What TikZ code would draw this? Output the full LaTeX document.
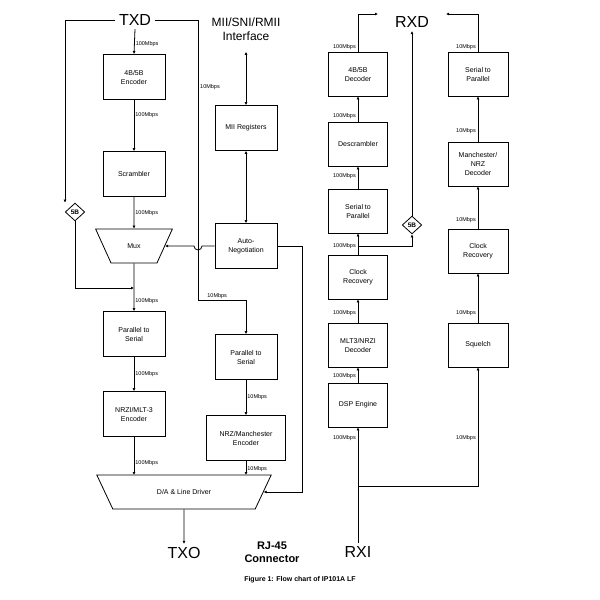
\documentclass[tikz,border=0pt]{standalone}
\usepackage{fontspec}
\setmainfont{Liberation Sans}
\usetikzlibrary{calc,shapes.geometric,arrows.meta}
\tikzset{
  blk/.style={draw,thick,minimum width=62pt,minimum height=45pt,align=center,font=\fontsize{7}{9}\selectfont},
  rate/.style={font=\fontsize{5.5}{6}\selectfont,inner sep=1pt},
  dia/.style={draw,thick,diamond,aspect=1.1,inner sep=1.5pt,font=\bfseries\fontsize{6.5}{7}\selectfont},
  big/.style={font=\fontsize{16}{18}\selectfont},
  arr/.style={thick,-{Latex[length=3pt,width=3pt]}},
  darr/.style={thick,{Latex[length=3pt,width=3pt]}-{Latex[length=3pt,width=3pt]}},
}
\begin{document}
\begin{tikzpicture}[x=1pt,y=-1pt]
\useasboundingbox (0,0) rectangle (600,600);
% transmit side
\node[big] (txd) at (135,20) {TXD};
\node[font=\fontsize{12}{14}\selectfont,align=center] (mii) at (246,29) {MII/SNI/RMII\\Interface};
\node[blk] (enc) at (134,77) {4B/5B\\Encoder};
\node[blk] (scr) at (134,174) {Scrambler};
\node[draw,thick,trapezium,shape border rotate=180,trapezium stretches=true,minimum width=77pt,minimum height=34pt,font=\fontsize{7}{9}\selectfont] (mux) at (134,246) {Mux};
\node[blk] (pts) at (134,334) {Parallel to\\Serial};
\node[blk] (nrzi) at (134,414) {NRZI/MLT-3\\Encoder};
\node[blk] (reg) at (246,128) {MII Registers};
\node[blk] (auto) at (246,246) {Auto-\\Negotiation};
\node[blk] (ptsb) at (246,357) {Parallel to\\Serial};
\node[blk,minimum width=79pt] (man) at (246,438) {NRZ/Manchester\\Encoder};
\node[draw,thick,trapezium,shape border rotate=180,trapezium stretches=true,minimum width=175pt,minimum height=34pt,font=\fontsize{7}{9}\selectfont] (da) at (184,492) {D/A \& Line Driver};
\node[dia] (fivea) at (75,212) {5B};
\node[big] (txo) at (184,553) {TXO};
\node[font=\bfseries\fontsize{11}{13}\selectfont,align=center] (rj) at (272,552) {RJ-45\\Connector};
\node[font=\bfseries\fontsize{7}{8}\selectfont] (cap) at (300,580) {Figure 1: Flow chart of IP101A LF};
\coordinate (ta) at (65,20);
\coordinate (tb) at (198,20);
\draw[thick] (ta) -- (txd.west);
\draw[thick] (txd.east) -- (tb);
\draw[arr] (ta) |- (txd.west) (ta) -- (ta |- fivea.north);
\draw[arr] (fivea.south) |- (134,288);
\draw[arr] (txd.south) -- (enc.north) node[rate,pos=0.6,right] {100Mbps};
\draw[arr] (enc) -- (scr) node[rate,pos=0.3,right] {100Mbps};
\draw[arr] (scr) -- (mux.north) node[rate,pos=0.5,right] {100Mbps};
\draw[arr] (mux.south) -- (pts.north) node[rate,pos=0.8,right] {100Mbps};
\draw[arr] (pts) -- (nrzi) node[rate,pos=0.5,right] {100Mbps};
\draw[arr] (nrzi.south) -- (134,475) node[rate,pos=0.7,right] {100Mbps};
\draw[arr] (man.south) -- (246,475) node[rate,pos=0.6,right] {10Mbps};
\draw[darr] (mii.south) ++(0,8) -- (reg.north);
\draw[darr] (reg) -- (auto);
\draw[arr] (tb) -- (198,300) -| (ptsb.north) node[rate,pos=0.2,above] {10Mbps};
\node[rate,right] at (199,87) {10Mbps};
\draw[arr] (auto.west) -- (202,246) arc (0:180:4) -- (mux.east);
\draw[arr] (auto.east) -- (302,246) |- (da.east);
\draw[arr] (ptsb) -- (man) node[rate,pos=0.5,right] {10Mbps};
\draw[arr] (da.south) -- (txo.north);
% receive side
\node[big] (rxd) at (412,22) {RXD};
\node[blk,minimum width=59pt,minimum height=44pt] (dec) at (358,74) {4B/5B\\Decoder};
\node[blk,minimum width=59pt,minimum height=44pt] (des) at (358,144) {Descrambler};
\node[blk,minimum width=59pt,minimum height=44pt] (stp) at (358,211) {Serial to\\Parallel};
\node[blk,minimum width=59pt,minimum height=44pt] (clk) at (358,277) {Clock\\Recovery};
\node[blk,minimum width=59pt,minimum height=44pt] (mlt) at (358,345) {MLT3/NRZI\\Decoder};
\node[blk,minimum width=59pt,minimum height=44pt] (dsp) at (358,405) {DSP Engine};
\node[blk,minimum width=60pt,minimum height=44pt] (stpb) at (478,74) {Serial to\\Parallel};
\node[blk,minimum width=60pt,minimum height=44pt] (mdec) at (478,164) {Manchester/\\NRZ\\Decoder};
\node[blk,minimum width=60pt,minimum height=44pt] (clkb) at (478,251) {Clock\\Recovery};
\node[blk,minimum width=60pt,minimum height=44pt] (sq) at (478,345) {Squelch};
\node[dia] (fiveb) at (412,225) {5B};
\node[big] (rxi) at (358,552) {RXI};
\draw[arr] (dec.north) |- (378,14);
\draw[arr] (stpb.north) |- (446,14);
\draw[arr] (fiveb.north) -- (rxd.south);
\draw[arr] (des) -- (dec);
\draw[arr] (stp) -- (des);
\draw[arr] (clk) -- (stp);
\draw[arr] (358,246) -| (fiveb.south);
\draw[arr] (mlt) -- (clk);
\draw[arr] (dsp) -- (mlt);
\draw[arr] (rxi.north) -- (dsp.south);
\draw[arr] (358,486) -| (sq.south);
\draw[arr] (sq) -- (clkb);
\draw[arr] (clkb) -- (mdec);
\draw[arr] (mdec) -- (stpb);
\foreach \y in {47,116,176,246,313,376,438}
  \node[rate,left] at (357,\y) {100Mbps};
\foreach \y in {47,131,220,313,438}
  \node[rate,left] at (477,\y) {10Mbps};
\end{tikzpicture}
\end{document}
